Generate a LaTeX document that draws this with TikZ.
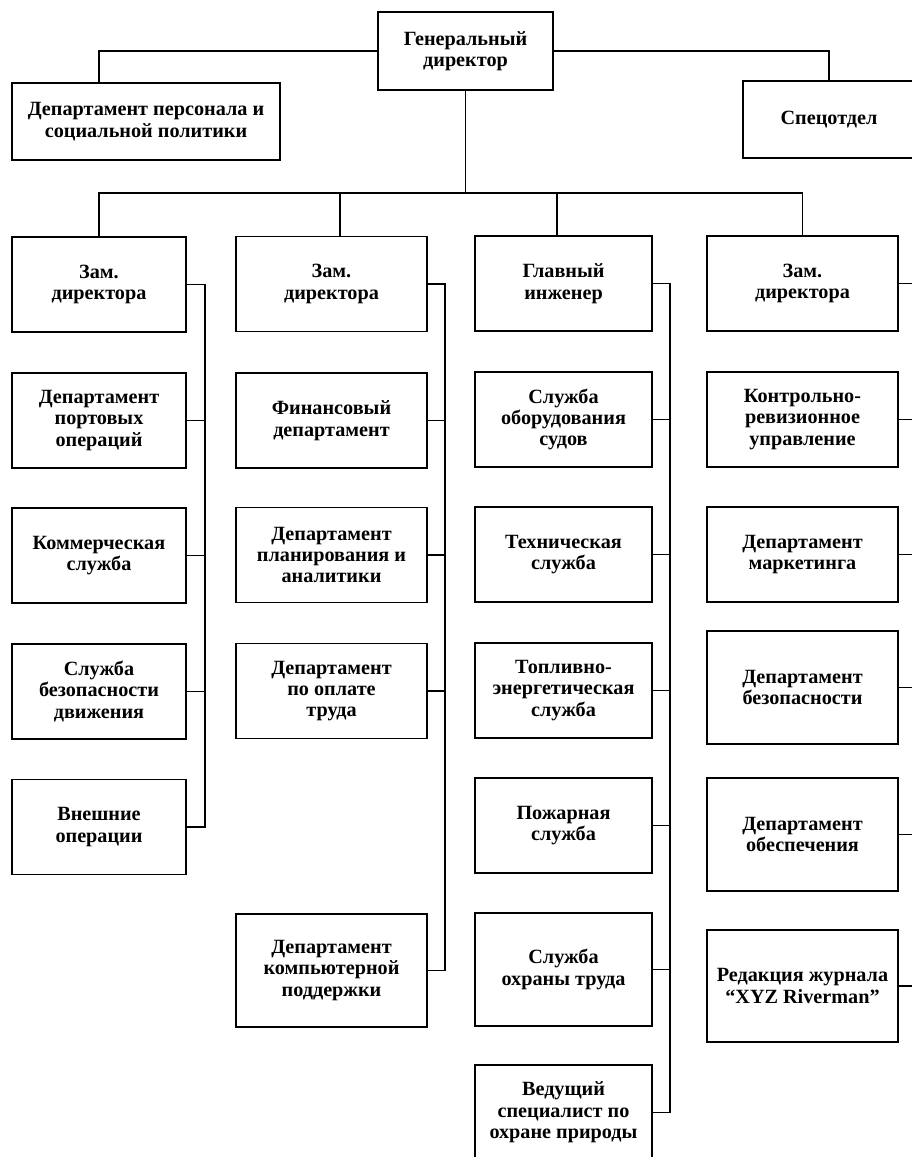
\documentclass[tikz,border=0pt]{standalone}
\usepackage{fontspec}
\setmainfont{Liberation Serif}
\tikzset{
  unit/.style={draw, line width=1pt, align=center, inner sep=1pt,
    font=\fontsize{11.5}{12.2}\selectfont\bfseries, minimum height=1.9cm},
  tall/.style={unit, minimum height=2.25cm},
  link/.style={line width=1pt}
}
\begin{document}
\begin{tikzpicture}[x=0.02cm, y=-0.02cm]
 \useasboundingbox (0,0) rectangle (912,1157);
 % top level
 \node[unit, minimum width=3.5cm, minimum height=1.56cm] (gd) at (465.5,51) {Генеральный\\директор};
 \node[unit, minimum width=5.36cm, minimum height=1.54cm] (pers) at (146,121.5) {Департамент персонала и\\социальной политики};
 \node[unit, minimum width=3.44cm, minimum height=1.54cm] (spec) at (829,119.5) {Спецотдел};
 \draw[link] (gd.west) -| ([xshift=-0.94cm]pers.north);
 \draw[link] (gd.east) -| (spec.north);

 % column 1
 \begin{scope}[every node/.append style={minimum width=3.48cm}]
  \node[unit] (z1) at (99,284.5) {Зам.\\директора};
  \node[unit] (c12) at (99,420.5) {Департамент\\портовых\\операций};
  \node[unit] (c13) at (99,555.5) {Коммерческая\\служба};
  \node[unit] (c14) at (99,691.5) {Служба\\безопасности\\движения};
  \node[unit] (c15) at (99,827) {Внешние\\операции};
 \end{scope}
 % column 2
 \begin{scope}[every node/.append style={minimum width=3.82cm}]
  \node[unit] (z2) at (331.5,284) {Зам.\\директора};
  \node[unit] (c22) at (331.5,420.5) {Финансовый\\департамент};
  \node[unit] (c23) at (331.5,555) {Департамент\\планирования и\\аналитики};
  \node[unit] (c24) at (331.5,691) {Департамент\\по оплате\\труда};
  \node[tall] (c25) at (331.5,970.5) {Департамент\\компьютерной\\поддержки};
 \end{scope}
 % column 3
 \begin{scope}[every node/.append style={minimum width=3.54cm}]
  \node[unit] (z3) at (563.5,283.5) {Главный\\инженер};
  \node[unit] (c32) at (563.5,419.5) {Служба\\оборудования\\судов};
  \node[unit] (c33) at (563.5,554.5) {Техническая\\служба};
  \node[unit] (c34) at (563.5,690.5) {Топливно-\\энергетическая\\служба};
  \node[unit] (c35) at (563.5,825.5) {Пожарная\\служба};
  \node[tall] (c36) at (563.5,969.5) {Служба\\охраны труда};
  \node[unit] (c37) at (563.5,1112.5) {Ведущий\\специалист по\\охране природы};
 \end{scope}
 % column 4
 \begin{scope}[every node/.append style={minimum width=3.82cm}]
  \node[unit] (z4) at (802.5,283.5) {Зам.\\директора};
  \node[unit] (c42) at (802.5,419.5) {Контрольно-\\ревизионное\\управление};
  \node[unit] (c43) at (802.5,554.5) {Департамент\\маркетинга};
  \node[tall] (c44) at (802.5,687.5) {Департамент\\безопасности};
  \node[tall] (c45) at (802.5,834.5) {Департамент\\обеспечения};
  \node[tall] (c46) at (802.5,986) {Редакция журнала\\“XYZ Riverman”};
 \end{scope}

 % bus under the director
 \coordinate (hub) at (468,193);
 \draw[link] (gd.south) -- (gd.south |- hub);
 \draw[link] (z1.north) |- (z4.north |- hub) -- (z4.north);
 \draw[link] ([xshift=0.17cm]z2.north) -- ([xshift=0.17cm]z2.north |- hub);
 \draw[link] ([xshift=-0.13cm]z3.north) -- ([xshift=-0.13cm]z3.north |- hub);

 % side buses
 \coordinate (b1) at (205,0);
 \coordinate (b2) at (445,0);
 \coordinate (b3) at (670,0);
 \coordinate (b4) at (914,0);
 \draw[link] (z1.east) -- (z1.east -| b1) -- (c15.east -| b1) -- (c15.east);
 \foreach \n in {c12,c13,c14} \draw[link] (\n.east) -- (\n.east -| b1);
 \draw[link] (z2.east) -- (z2.east -| b2) -- (c25.east -| b2) -- (c25.east);
 \foreach \n in {c22,c23,c24} \draw[link] (\n.east) -- (\n.east -| b2);
 \draw[link] (z3.east) -- (z3.east -| b3) -- (c37.east -| b3) -- (c37.east);
 \foreach \n in {c32,c33,c34,c35,c36} \draw[link] (\n.east) -- (\n.east -| b3);
 \draw[link] (z4.east) -- (z4.east -| b4) -- (c46.east -| b4) -- (c46.east);
 \foreach \n in {c42,c43,c44,c45} \draw[link] (\n.east) -- (\n.east -| b4);
\end{tikzpicture}
\end{document}
